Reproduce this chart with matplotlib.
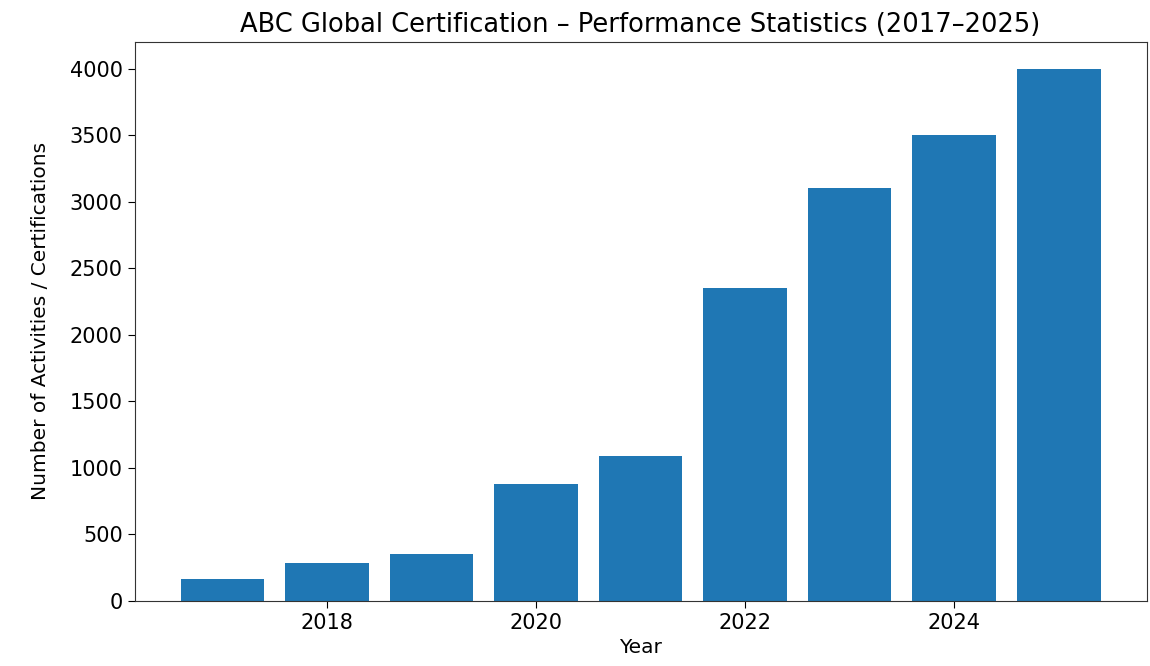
import matplotlib
matplotlib.use("Agg")
import matplotlib.pyplot as plt

# yearly totals
years = [2017, 2018, 2019, 2020, 2021, 2022, 2023, 2024, 2025]
counts = [160, 280, 350, 875, 1090, 2350, 3100, 3500, 4000]

fig, ax = plt.subplots(figsize=(11.5, 6.66), dpi=100)
fig.subplots_adjust(left=0.117, right=0.997, top=0.937, bottom=0.098)

ax.bar(years, counts, color="#1f77b4", width=0.8)

ax.set_title("ABC Global Certification \u2013 Performance Statistics (2017\u20132025)",
             fontsize=18.5, pad=7)
ax.set_xlabel("Year", fontsize=14.5, labelpad=4)
ax.set_ylabel("Number of Activities / Certifications", fontsize=14.5, labelpad=14)
ax.set_xticks([2018, 2020, 2022, 2024])
ax.set_yticks(range(0, 4001, 500))
ax.tick_params(labelsize=15, length=5)
for s in ax.spines.values():
    s.set_color("#333333")

plt.savefig("out.png", dpi=100)
